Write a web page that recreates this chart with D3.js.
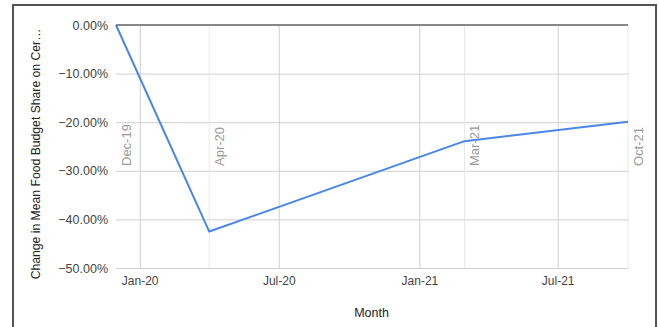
<!DOCTYPE html>
<html>
<head>
<meta charset="utf-8">
<script src="https://cdn.jsdelivr.net/npm/d3@7"></script>
<style>
  html, body { margin: 0; padding: 0; background: #fff; }
  svg { display: block; font-family: Arial, "Liberation Sans", sans-serif; }
</style>
</head>
<body>
<svg id="chart" width="659" height="327"></svg>
<script>
// Monthly observations (first of month) and change in mean food budget share, %
const months = ["2019-12-01", "2020-04-01", "2021-03-01", "2021-10-01"];
const monthLabels = ["Dec-19", "Apr-20", "Mar-21", "Oct-21"];
const changePct = [0, -42.5, -23.9, -19.9];
const yTicks = [0, -10, -20, -30, -40, -50];
const xTicks = ["2020-01-01", "2020-07-01", "2021-01-01", "2021-07-01"];

const parse = d3.utcParse("%Y-%m-%d");
const dates = months.map(parse);
const data = dates.map((d, i) => ({ date: d, value: changePct[i], label: monthLabels[i] }));

const svg = d3.select("#chart");
const plot = { left: 116, right: 628, top: 25, bottom: 268 };

const x = d3.scaleUtc()
  .domain([dates[0], dates[dates.length - 1]])
  .range([plot.left, plot.right]);
const y = d3.scaleLinear()
  .domain([-50, 0])
  .range([plot.bottom, plot.top]);

// outer frame
svg.append("rect")
  .attr("x", 13).attr("y", 5)
  .attr("width", 643).attr("height", 340)
  .attr("fill", "none").attr("stroke", "#555").attr("stroke-width", 2);

// horizontal gridlines
svg.append("g")
  .attr("transform", `translate(${plot.left},0)`)
  .call(d3.axisLeft(y).tickValues(yTicks.filter(v => v !== 0))
    .tickSize(-(plot.right - plot.left)).tickFormat(""))
  .call(g => g.select(".domain").remove())
  .call(g => g.selectAll("line").attr("stroke", "#d0d0d0"));

// vertical gridlines at major ticks
svg.append("g")
  .attr("transform", `translate(0,${plot.bottom})`)
  .call(d3.axisBottom(x).tickValues(xTicks.map(parse))
    .tickSize(-(plot.bottom - plot.top)).tickFormat(""))
  .call(g => g.select(".domain").remove())
  .call(g => g.selectAll("line").attr("stroke", "#d0d0d0"));

// annotation lines at observation months
svg.append("g").selectAll("line")
  .data(data.slice(1))
  .join("line")
  .attr("x1", d => x(d.date)).attr("x2", d => x(d.date))
  .attr("y1", plot.top).attr("y2", plot.bottom)
  .attr("stroke", "#e8e8e8");

// zero baseline
svg.append("line")
  .attr("x1", plot.left).attr("x2", plot.right)
  .attr("y1", y(0)).attr("y2", y(0))
  .attr("stroke", "#888").attr("stroke-width", 2);

// y tick labels
svg.append("g")
  .attr("transform", `translate(${plot.left},0)`)
  .call(d3.axisLeft(y).tickValues(yTicks).tickSize(0).tickPadding(8)
    .tickFormat(v => d3.format(".2f")(v) + "%"))
  .call(g => g.select(".domain").remove())
  .call(g => g.selectAll("text")
    .attr("font-family", "Arial, 'Liberation Sans', sans-serif")
    .attr("font-size", 12.5).attr("fill", "#444"));

// x tick labels
svg.append("g")
  .attr("transform", `translate(0,${plot.bottom})`)
  .call(d3.axisBottom(x).tickValues(xTicks.map(parse)).tickSize(0).tickPadding(8)
    .tickFormat(d3.utcFormat("%b-%y")))
  .call(g => g.select(".domain").remove())
  .call(g => g.selectAll("text")
    .attr("font-family", "Arial, 'Liberation Sans', sans-serif")
    .attr("font-size", 12).attr("fill", "#444"));

// series line
svg.append("path")
  .datum(data)
  .attr("fill", "none")
  .attr("stroke", "#4a86e8")
  .attr("stroke-width", 2)
  .attr("stroke-linejoin", "round")
  .attr("d", d3.line().x(d => x(d.date)).y(d => y(d.value)));

// month annotations beside each observation
svg.append("g").selectAll("text")
  .data(data)
  .join("text")
  .attr("transform", d => `translate(${x(d.date) + 14.5},166) rotate(-90)`)
  .attr("font-size", 13)
  .attr("fill", "#999")
  .text(d => d.label);

// axis titles
svg.append("text")
  .attr("x", (plot.left + plot.right) / 2 - 0.5)
  .attr("y", 317)
  .attr("text-anchor", "middle")
  .attr("font-size", 12.5)
  .attr("fill", "#222")
  .text("Month");

svg.append("text")
  .attr("transform", "translate(39.5,154) rotate(-90)")
  .attr("text-anchor", "middle")
  .attr("font-size", 12.2)
  .attr("fill", "#222")
  .text("Change in Mean Food Budget Share on Cer…");
</script>
</body>
</html>
